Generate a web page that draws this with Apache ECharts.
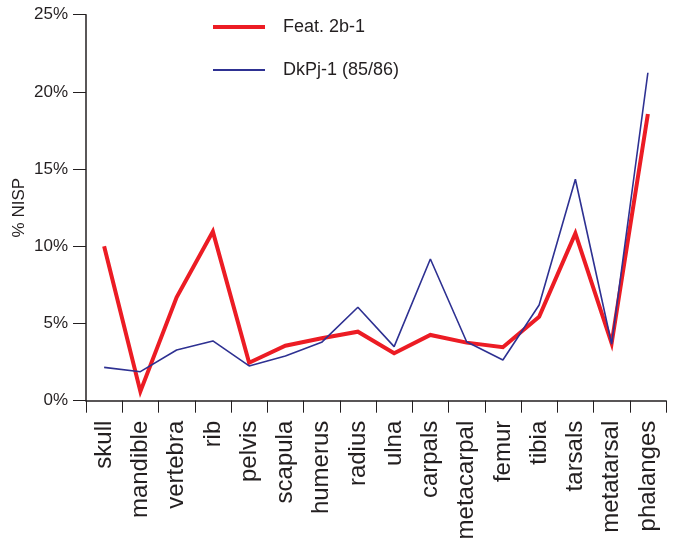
<!DOCTYPE html>
<html><head><meta charset="utf-8">
<script src="https://cdn.jsdelivr.net/npm/echarts@6/dist/echarts.min.js"></script>
<style>html,body{margin:0;padding:0;background:#fff}#c{width:674px;height:540px}</style>
</head><body><div id="c"></div>
<script>
const categories = ['skull','mandible','vertebra','rib','pelvis','scapula','humerus','radius','ulna','carpals','metacarpal','femur','tibia','tarsals','metatarsal','phalanges'];
const feat2b1 = [10.0, 0.6, 6.7, 10.95, 2.46, 3.56, 4.04, 4.47, 3.07, 4.26, 3.76, 3.46, 5.44, 10.84, 3.72, 18.57];
const dkpj1 = [2.16, 1.88, 3.28, 3.87, 2.25, 2.9, 3.78, 6.05, 3.5, 9.18, 3.82, 2.64, 6.2, 14.34, 3.67, 21.24];
const seriesNames = ['Feat. 2b-1', 'DkPj-1 (85/86)'];
const yTicks = { min: 0, max: 25, interval: 5 };
const yTitle = '% NISP';

const chart = echarts.init(document.getElementById('c'), null, {renderer: 'canvas'});
const font = 'Liberation Sans, Arial, Helvetica, sans-serif';
const red = '#ec1c24', blue = '#2e3192', ink = '#231f20';
const legendText = { fontFamily: font, fontSize: 18, color: ink, padding: [0,0,0,13] };
chart.setOption({
  animation: false,
  grid: { left: 86, right: 8, top: 14.7, bottom: 139.3, containLabel: false, outerBoundsMode: 'none' },
  legend: [
    { orient: 'vertical', left: 213, top: 18, padding: 0, icon: 'rect',
      itemWidth: 52, itemHeight: 4, textStyle: legendText,
      data: [{ name: seriesNames[0], itemStyle: { color: red } }] },
    { orient: 'vertical', left: 213, top: 61, padding: 0, icon: 'rect',
      itemWidth: 52, itemHeight: 2, textStyle: legendText,
      data: [{ name: seriesNames[1], itemStyle: { color: blue } }] }
  ],
  xAxis: {
    type: 'category', data: categories, boundaryGap: true,
    axisLine: { lineStyle: { color: ink, width: 1.5 } },
    axisTick: { show: true, interval: 0, length: 12, lineStyle: { color: ink, width: 1 } },
    axisLabel: { interval: 0, rotate: 90, fontFamily: font, fontSize: 24, color: ink, margin: 20 }
  },
  yAxis: {
    type: 'value', min: yTicks.min, max: yTicks.max, interval: yTicks.interval,
    name: yTitle, nameLocation: 'middle', nameGap: 67, nameRotate: 90, nameMoveOverlap: false,
    nameTextStyle: { fontFamily: font, fontSize: 17, color: ink, verticalAlign: 'middle', align: 'center' },
    splitLine: { show: false },
    axisLine: { show: true, lineStyle: { color: ink, width: 1.5 } },
    axisTick: { show: true, length: 13, lineStyle: { color: ink, width: 1 } },
    axisLabel: { formatter: '{value}%', fontFamily: font, fontSize: 17, color: ink, margin: 18 }
  },
  series: [
    { name: seriesNames[0], type: 'line', data: feat2b1, symbol: 'none', z: 2,
      lineStyle: { color: red, width: 4, join: 'miter' }, itemStyle: { color: red } },
    { name: seriesNames[1], type: 'line', data: dkpj1, symbol: 'none', z: 3,
      lineStyle: { color: blue, width: 1.6 }, itemStyle: { color: blue } }
  ]
});
</script></body></html>
